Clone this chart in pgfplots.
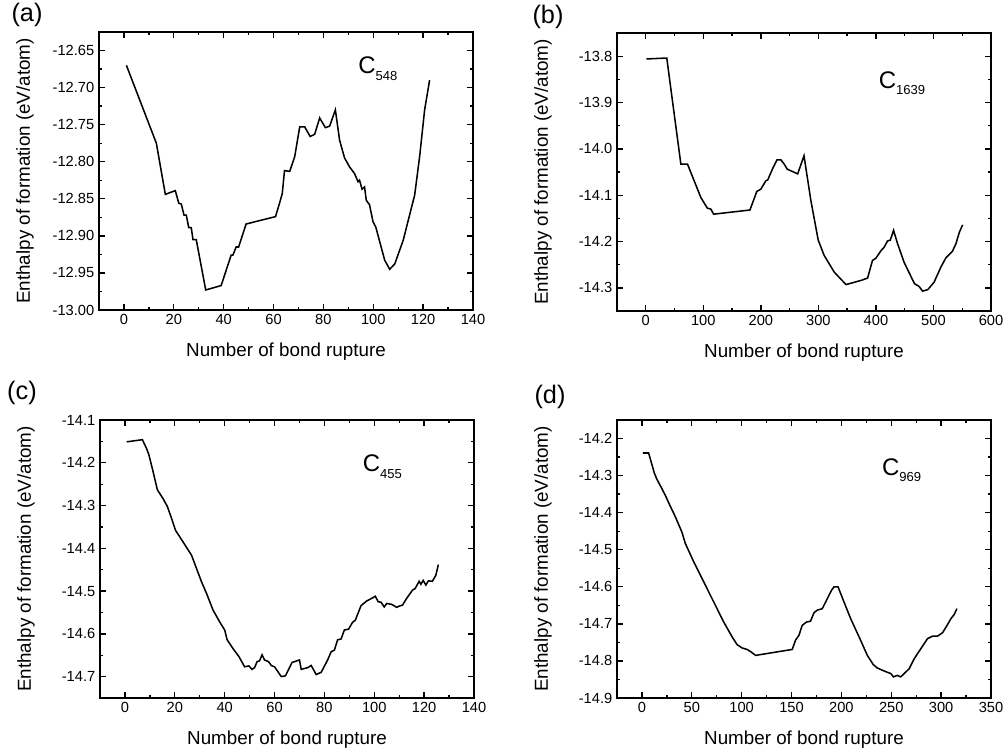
\documentclass[border=0pt]{standalone}
\usepackage{fontspec}
\setmainfont{Liberation Sans}
\usepackage{pgfplots}
\pgfplotsset{compat=1.18}

\pgfplotsset{
  panel/.style={
    scale only axis,
    width=280.5pt, height=208.5pt,
    axis line style={line width=1.4pt},
    major tick length=4.5pt, minor tick length=2.6pt,
    every tick/.style={black, line width=1pt},
    minor x tick num=1, minor y tick num=1,
    tick align=inside,
    /pgf/number format/assume math mode=true,
    tick label style={font=\fontsize{11}{13}\selectfont},
    label style={font=\fontsize{14.1}{16}\selectfont},
    xlabel={Number of bond rupture},
    ylabel={Enthalpy of formation (eV/atom)},
    xlabel style={at={(axis description cs:0.5,-0.151)}, anchor=center},
    ylabel style={at={(axis description cs:-0.198,0.5)}, anchor=center},
    xticklabel style={/pgf/number format/fixed},
  },
  curve/.style={black, line width=1.15pt, mark=none},
}
\tikzset{tag/.style={anchor=base west, inner sep=0pt, font=\fontsize{18}{20}\selectfont}}
\newcommand{\sub}[1]{{\fontsize{9.8}{10}\selectfont\raisebox{-5pt}{#1}}}

\begin{document}
\begin{tikzpicture}
\useasboundingbox (0,0) rectangle (753pt,-562.5pt);

% (a) C548
\begin{axis}[panel, at={(74.25pt,-232.5pt)}, anchor=south west,
  xmin=-10, xmax=140, xtick={0,20,...,140},
  ymin=-13.0, ymax=-12.625,
  ytick={-13.00,-12.95,-12.90,-12.85,-12.80,-12.75,-12.70,-12.65},
  yticklabel style={/pgf/number format/.cd, fixed, fixed zerofill, precision=2}]
\addplot[curve] coordinates {
(1,-12.670) (13,-12.775) (16.6,-12.844) (20.6,-12.839) (22,-12.856) (23,-12.857)
(24.1,-12.872) (25,-12.872) (26,-12.889) (27,-12.889) (27.7,-12.905) (29,-12.905)
(32.8,-12.973) (39,-12.967) (43,-12.926) (43.7,-12.926) (45,-12.915) (46,-12.915)
(49,-12.884) (60.8,-12.874) (62.4,-12.856) (63.5,-12.843) (64.4,-12.812) (66.5,-12.813)
(68.5,-12.793) (70.5,-12.753) (72.5,-12.753) (74.7,-12.766) (76.5,-12.763) (78.5,-12.741)
(80.8,-12.754) (82.5,-12.752) (84.8,-12.730) (86.5,-12.771) (88.5,-12.795) (90.5,-12.807)
(92.5,-12.816) (93.9,-12.827) (94.5,-12.825) (95.5,-12.837) (96.5,-12.834) (97.2,-12.852)
(98.5,-12.858) (99.9,-12.881) (101,-12.888) (104.6,-12.933) (106.6,-12.945) (108.6,-12.938)
(112,-12.906) (116.6,-12.845) (118.6,-12.793) (120.6,-12.730) (122.6,-12.690)
};
\node[tag] at (axis cs:93.9,-12.6814) {C\sub{548}};
\end{axis}

% (b) C1639
\begin{axis}[panel, at={(462.75pt,-233.25pt)}, anchor=south west,
  xmin=-50, xmax=600, xtick={0,100,...,600},
  ymin=-14.35, ymax=-13.75,
  ytick={-14.3,-14.2,-14.1,-14.0,-13.9,-13.8},
  yticklabel style={/pgf/number format/.cd, fixed, fixed zerofill, precision=1}]
\addplot[curve] coordinates {
(1,-13.806) (36.5,-13.804) (61,-14.033) (72.5,-14.033) (95.7,-14.105) (107,-14.128)
(113,-14.130) (118,-14.141) (181,-14.132) (193,-14.092) (200,-14.087) (208.7,-14.069)
(212,-14.067) (220,-14.044) (228,-14.024) (235,-14.024) (240.6,-14.033) (246,-14.044)
(255,-14.049) (264,-14.054) (275,-14.015) (287,-14.112) (299.7,-14.197) (310,-14.230)
(327.5,-14.266) (348,-14.293) (374,-14.284) (385.5,-14.279) (394,-14.241) (400,-14.236)
(408.7,-14.220) (414.5,-14.212) (420,-14.199) (425,-14.197) (430.7,-14.176) (437.7,-14.205)
(449,-14.245) (467,-14.291) (475,-14.297) (481,-14.307) (490,-14.304) (501,-14.288)
(513,-14.255) (521.7,-14.235) (533,-14.221) (539,-14.205) (545,-14.180) (550.7,-14.164)
};
\node[tag] at (axis cs:404.6,-13.869) {C\sub{1639}};
\end{axis}

% (c) C455
\begin{axis}[panel, at={(75pt,-523.5pt)}, anchor=south west,
  xmin=-10, xmax=140, xtick={0,20,...,140},
  ymin=-14.75, ymax=-14.1,
  ytick={-14.7,-14.6,-14.5,-14.4,-14.3,-14.2,-14.1},
  yticklabel style={/pgf/number format/.cd, fixed, fixed zerofill, precision=1}]
\addplot[curve] coordinates {
(0.7,-14.151) (7,-14.146) (8.7,-14.167) (9.6,-14.181) (11.3,-14.221) (13,-14.263)
(15.3,-14.284) (17,-14.302) (18.7,-14.330) (20.3,-14.358) (23.3,-14.385) (26.7,-14.416)
(28.7,-14.447) (30.7,-14.478) (32.7,-14.505) (35.3,-14.544) (38,-14.572) (40,-14.591)
(41,-14.614) (43.3,-14.634) (45.7,-14.653) (48,-14.677) (49.7,-14.675) (51,-14.683)
(52,-14.679) (53,-14.665) (54,-14.663) (55,-14.649) (56,-14.661) (57.6,-14.665)
(58.7,-14.674) (60,-14.677) (61.3,-14.688) (62.7,-14.700) (64.4,-14.698) (67,-14.667)
(70,-14.661) (70.7,-14.683) (73.3,-14.679) (74.7,-14.674) (76.7,-14.695) (78.7,-14.690)
(81.3,-14.661) (82.7,-14.642) (84,-14.638) (85.3,-14.614) (86.7,-14.612) (88,-14.591)
(89.7,-14.589) (91.3,-14.573) (92.4,-14.568) (94.7,-14.534) (97,-14.523) (99.3,-14.516)
(100.4,-14.512) (101.6,-14.525) (102.7,-14.526) (104,-14.537) (105,-14.529) (107,-14.531)
(109,-14.538) (110,-14.535) (111.3,-14.533) (113,-14.517) (115.3,-14.498) (116.4,-14.494)
(118,-14.477) (118.7,-14.484) (119.6,-14.475) (120.7,-14.486) (121.7,-14.476) (123.3,-14.477)
(124.7,-14.463) (125.7,-14.438)
};
\node[tag] at (axis cs:95.3,-14.221) {C\sub{455}};
\end{axis}

% (d) C969
\begin{axis}[panel, at={(462.75pt,-523.5pt)}, anchor=south west,
  xmin=-25, xmax=350, xtick={0,50,...,350},
  ymin=-14.9, ymax=-14.15,
  ytick={-14.9,-14.8,-14.7,-14.6,-14.5,-14.4,-14.3,-14.2},
  yticklabel style={/pgf/number format/.cd, fixed, fixed zerofill, precision=1}]
\addplot[curve] coordinates {
(1,-14.239) (6.7,-14.239) (10,-14.270) (12.4,-14.293) (15,-14.310) (19,-14.330)
(23.4,-14.353) (28.5,-14.383) (33.5,-14.411) (40,-14.452) (43.5,-14.483) (52,-14.533)
(62,-14.587) (72,-14.641) (82,-14.695) (90.4,-14.735) (95.4,-14.756) (100.5,-14.765)
(105.5,-14.769) (109.5,-14.776) (114,-14.785) (150.7,-14.769) (154,-14.744) (157.4,-14.731)
(160.7,-14.704) (165,-14.695) (169,-14.693) (172.5,-14.670) (175.8,-14.663) (180.8,-14.659)
(184.2,-14.641) (187.5,-14.623) (190.2,-14.609) (192.6,-14.600) (196.6,-14.600) (202.6,-14.641)
(209.3,-14.686) (217.7,-14.735) (226,-14.785) (232,-14.810) (236,-14.819) (241,-14.825)
(245.5,-14.830) (249.5,-14.834) (252.2,-14.843) (256.2,-14.839) (259.5,-14.843) (268,-14.821)
(273,-14.794) (279.6,-14.767) (286.3,-14.740) (291.4,-14.733) (296.4,-14.733) (301.4,-14.724)
(306.4,-14.702) (309.8,-14.686) (313,-14.675) (315.8,-14.659)
};
\node[tag] at (axis cs:240.5,-14.299) {C\sub{969}};
\end{axis}

% panel letters
\node[font=\fontsize{19}{21}\selectfont] at (20.25pt,-11.5pt) {(a)};
\node[font=\fontsize{19}{21}\selectfont] at (411pt,-13pt) {(b)};
\node[font=\fontsize{19}{21}\selectfont] at (16.5pt,-295pt) {(c)};
\node[font=\fontsize{19}{21}\selectfont] at (412.5pt,-298pt) {(d)};
\end{tikzpicture}
\end{document}
